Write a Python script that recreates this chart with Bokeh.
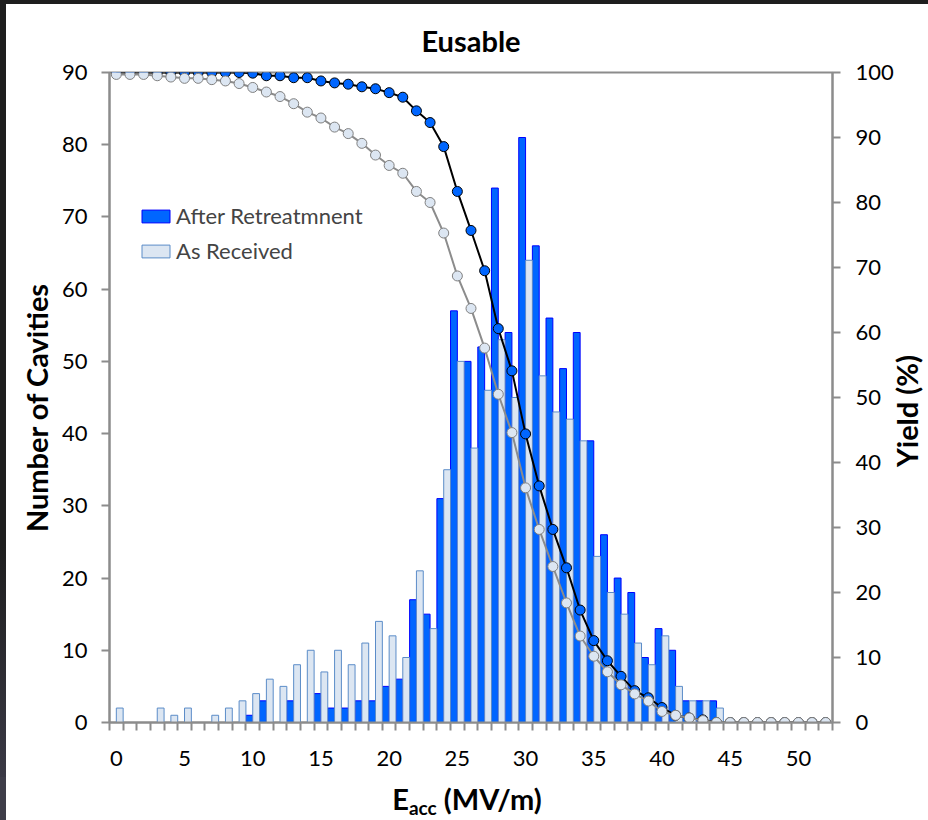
import math
from bokeh.plotting import figure
from bokeh.models import (Range1d, LinearAxis, FixedTicker, ColumnDataSource,
                          Legend, LegendItem, Div)
from bokeh.transform import dodge
from bokeh.layouts import column, row
from bokeh.embed import file_html
from bokeh.resources import INLINE

# ---------------- data ----------------
cats = list(range(53))  # Eacc bins, MV/m
after_retreatment = [0, 0, 0, 0, 0, 0, 0, 0, 0, 0,
                     1, 3, 0, 3, 0, 4, 2, 2, 3, 3,
                     5, 6, 17, 15, 31, 57, 50, 52, 74, 54,
                     81, 66, 56, 49, 54, 39, 26, 20, 18, 9,
                     13, 10, 3, 3, 3, 0, 0, 0, 0, 0,
                     0, 0, 0]
as_received = [2, 0, 0, 2, 1, 2, 0, 1, 2, 3,
               4, 6, 5, 8, 10, 7, 10, 8, 11, 14,
               12, 9, 21, 13, 35, 50, 38, 46, 53, 45,
               64, 48, 43, 42, 39, 23, 18, 15, 11, 8,
               12, 5, 3, 3, 2, 0, 0, 0, 0, 0,
               0, 0, 0]
yield_after = [100.0, 100.0, 100.0, 100.0, 100.0, 100.0, 100.0, 100.0, 100.0, 100.0,
               99.9, 99.5, 99.5, 99.2, 99.2, 98.7, 98.4, 98.2, 97.8, 97.5,
               96.9, 96.2, 94.1, 92.3, 88.6, 81.7, 75.7, 69.5, 60.6, 54.1,
               44.4, 36.4, 29.7, 23.8, 17.3, 12.6, 9.5, 7.1, 4.9, 3.8,
               2.3, 1.1, 0.7, 0.4, 0.0, 0.0, 0.0, 0.0, 0.0, 0.0,
               0.0, 0.0, 0.0]
yield_received = [99.7, 99.7, 99.7, 99.5, 99.3, 99.1, 99.1, 98.9, 98.7, 98.3,
                  97.7, 97.0, 96.3, 95.2, 93.9, 93.0, 91.6, 90.6, 89.1, 87.3,
                  85.7, 84.5, 81.7, 80.0, 75.3, 68.7, 63.7, 57.6, 50.5, 44.6,
                  36.1, 29.7, 24.0, 18.4, 13.3, 10.2, 7.8, 5.8, 4.4, 3.3,
                  1.7, 1.1, 0.7, 0.3, 0.0, 0.0, 0.0, 0.0, 0.0, 0.0,
                  0.0, 0.0, 0.0]
x_tick_values = [0, 5, 10, 15, 20, 25, 30, 35, 40, 45, 50]
left_tick_values = [0, 10, 20, 30, 40, 50, 60, 70, 80, 90]
right_tick_values = [0, 10, 20, 30, 40, 50, 60, 70, 80, 90, 100]
bin_edges = [c - 0.5 for c in cats] + [cats[-1] + 0.5]

src = ColumnDataSource(dict(cat=cats, after=after_retreatment, received=as_received,
                            ya=yield_after, yr=yield_received))

FONT = "Lato"
AXIS_GRAY = "#8c8c8c"

p = figure(frame_width=723, frame_height=650,
           x_range=Range1d(-0.5, 52.5), y_range=Range1d(0, 90),
           output_backend="svg", toolbar_location=None,
           min_border_left=50, min_border_right=63,
           min_border_top=68, min_border_bottom=55)
p.margin = (4, 0, 0, 0)
p.extra_y_ranges = {"yield": Range1d(0, 100)}
p.background_fill_color = "white"
p.border_fill_color = "white"
p.outline_line_color = AXIS_GRAY
p.outline_line_width = 2
p.xgrid.visible = False
p.ygrid.visible = False

p.title.text = "Eusable"
p.title.align = "center"
p.title.text_font = FONT
p.title.text_font_size = "29px"
p.title.text_font_style = "bold"
p.title.text_color = "black"
p.title.standoff = 30

# x axis
xa = p.xaxis[0]
xa.ticker = FixedTicker(ticks=x_tick_values, minor_ticks=bin_edges)
xa.major_tick_out = 0
xa.major_tick_in = 0
xa.minor_tick_out = 8
xa.minor_tick_in = 0
xa.major_label_standoff = 20

# left y axis (its title is drawn in the Div to the left)
ya = p.yaxis[0]
ya.ticker = FixedTicker(ticks=left_tick_values)
ya.major_tick_out = 8
ya.major_tick_in = 0
ya.minor_tick_out = 0
ya.minor_tick_in = 0
ya.major_label_standoff = 14

# right y axis (its title is drawn in the Div to the right)
ra = LinearAxis(y_range_name="yield", ticker=FixedTicker(ticks=right_tick_values))
ra.major_tick_out = 8
ra.major_tick_in = 0
ra.minor_tick_out = 0
ra.minor_tick_in = 0
ra.major_label_standoff = 15
p.add_layout(ra, "right")

for ax in [xa, ya, ra]:
    ax.axis_line_color = AXIS_GRAY
    ax.axis_line_width = 2
    ax.major_tick_line_color = AXIS_GRAY
    ax.major_tick_line_width = 2
    ax.minor_tick_line_color = AXIS_GRAY
    ax.minor_tick_line_width = 2
    ax.major_label_text_font = FONT
    ax.major_label_text_font_size = "22px"
    ax.major_label_text_color = "black"

# bars
r_after = p.vbar(x=dodge("cat", -0.25, range=p.x_range), top="after", width=0.5,
                 source=src, fill_color="#0066ff", line_color="#0000ff", line_width=1)
r_recv = p.vbar(x=dodge("cat", 0.25, range=p.x_range), top="received", width=0.5,
                source=src, fill_color="#dce6f2", line_color="#5b8cc8", line_width=1)

# yield curves
p.line("cat", "ya", source=src, y_range_name="yield", line_color="black", line_width=2)
p.scatter("cat", "ya", source=src, y_range_name="yield", size=10,
          fill_color="#0066ff", line_color="black", line_width=1)
p.line("cat", "yr", source=src, y_range_name="yield", line_color="#8c8c8c", line_width=2)
p.scatter("cat", "yr", source=src, y_range_name="yield", size=10,
          fill_color="#dce6f2", line_color="#808080", line_width=1)

legend = Legend(items=[LegendItem(label="After Retreatmnent", renderers=[r_after]),
                       LegendItem(label="As Received", renderers=[r_recv])],
                location=(29, 458), padding=0, spacing=8,
                glyph_width=35, glyph_height=16, label_height=27, label_standoff=3,
                label_text_font=FONT, label_text_font_size="22px",
                border_line_color=None, background_fill_alpha=0)
p.add_layout(legend)

TEXT_STYLE = {"font-family": "Lato", "font-size": "29px", "font-weight": "bold",
              "color": "black"}
ROT = ('position:absolute; transform:translate(-50%,-50%) rotate(-90deg); '
       'white-space:nowrap; line-height:29px; ')

# left axis title, reading bottom-to-top; its first 6px show the dark page edge
ylabel_left = Div(text=f'<div style="{ROT}left:36px; top:404px">Number of Cavities</div>',
                  width=58, height=773, margin=(4, 0, 0, 0),
                  styles=dict(TEXT_STYLE, background=(
                      "linear-gradient(to right, transparent 6px, white 6px), "
                      "linear-gradient(#1e1e1e 0%, #1e1e1e 70%, #3a3945 100%)")))

# right axis title, reading bottom-to-top
ylabel_right = Div(text=f'<div style="{ROT}left:10px; top:407px">Yield (%)</div>',
                   width=34, height=773, margin=(4, 0, 0, 0),
                   styles=dict(TEXT_STYLE, background="white"))

# x-axis title with subscript
xlabel = Div(text='<div style="padding-top:7px; padding-left:6px">E<span style="font-size:19px; '
                  'position:relative; top:5px">acc</span> (MV/m)</div>',
             width=928, height=43, margin=(0, 0, 0, 0),
             styles=dict(TEXT_STYLE, **{"text-align": "center", "line-height": "29px",
                                        "background": "linear-gradient(to right, #3e3d49 6px, white 6px)"}))

layout = column(row(ylabel_left, p, ylabel_right, spacing=0), xlabel, spacing=0,
                styles={"background": "linear-gradient(#1e1e1e 0px, #1e1e1e 4px, white 4px)"})

open("out.html", "w").write(file_html(layout, INLINE))
